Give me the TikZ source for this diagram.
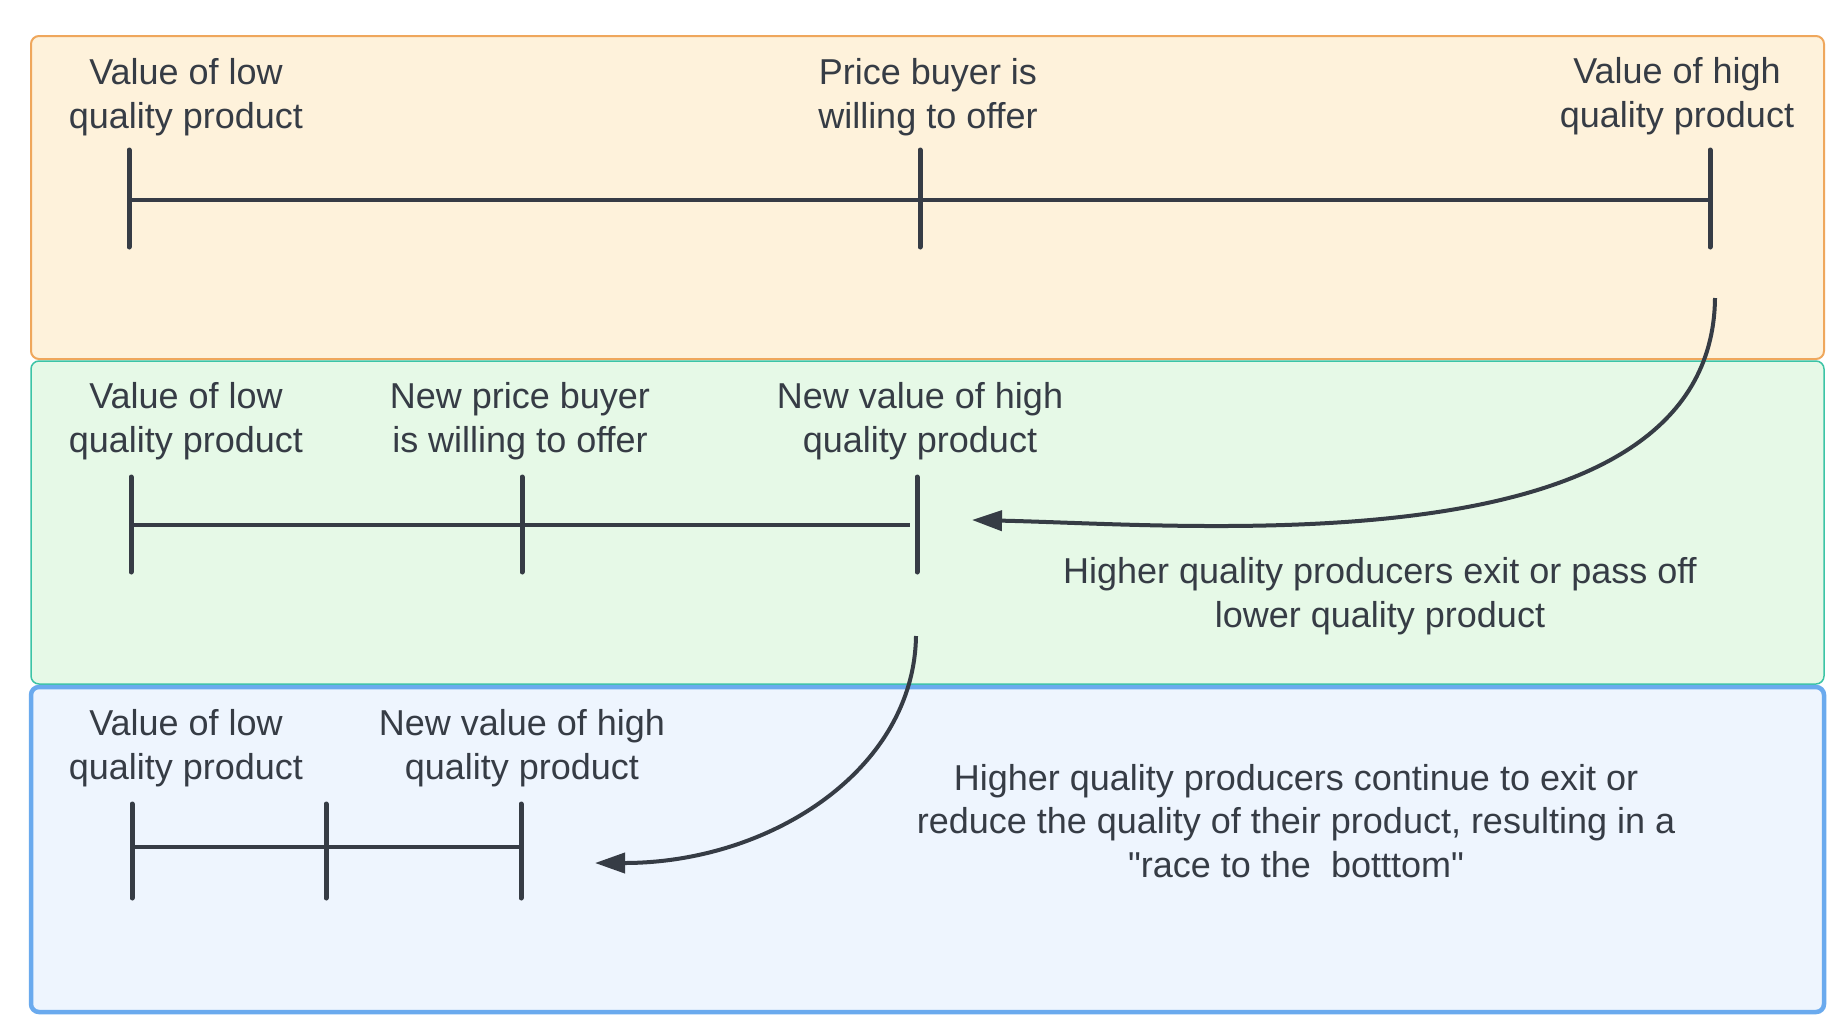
\documentclass[tikz,border=0pt]{standalone}
\usepackage{fontspec}
\setmainfont{Liberation Sans}[Ligatures=TeXOff]
\usetikzlibrary{arrows.meta}
\definecolor{ink}{HTML}{363C45}
\definecolor{orfill}{HTML}{FEF2DB}
\definecolor{ordraw}{HTML}{EFA75C}
\definecolor{grfill}{HTML}{E6F9E7}
\definecolor{grdraw}{HTML}{3CC4A6}
\definecolor{blfill}{HTML}{EEF5FE}
\definecolor{bldraw}{HTML}{6AAAEE}
\begin{document}
\begin{tikzpicture}[x=1pt,y=-1pt,
  lbl/.style={text=ink, font=\fontsize{36}{43.5}\selectfont, align=center, inner sep=0pt},
  tickmark/.style={draw=ink, line width=5pt, line cap=round},
  axisline/.style={draw=ink, line width=4.5pt},
  conn/.style={draw=ink, line width=4pt, -{Triangle[length=30pt,width=20pt]}}]
\useasboundingbox[fill=white] (0,0) rectangle (1844,1034);
% panels
\path[draw=ordraw, line width=2pt, fill=orfill, rounded corners=8pt] (31,36) rectangle (1824,359);
\path[draw=grdraw, line width=1.5pt, fill=grfill, rounded corners=8pt] (31,361) rectangle (1824,684);
\path[draw=bldraw, line width=4.5pt, fill=blfill, rounded corners=8pt] (31,687) rectangle (1824,1012);
% top row
\node[lbl] (l11) at (186,97) {Value of low\\quality product};
\node[lbl] (l12) at (928,97) {Price buyer is\\willing to offer};
\node[lbl] (l13) at (1677,96) {Value of high\\quality product};
\coordinate (t11a) at (129,150); \coordinate (t11b) at (129,247);
\coordinate (t12a) at (920,150); \coordinate (t12b) at (920,247);
\coordinate (t13a) at (1710,150); \coordinate (t13b) at (1710,247);
\coordinate (p11) at (129,200); \coordinate (p13) at (1710,200);
\draw[axisline] (p11) -- (p13);
\draw[tickmark] (t11a) -- (t11b);
\draw[tickmark] (t12a) -- (t12b);
\draw[tickmark] (t13a) -- (t13b);
% middle row
\node[lbl] (l21) at (186,421) {Value of low\\quality product};
\node[lbl] (l22) at (520,421) {New price buyer\\is willing to offer};
\node[lbl] (l23) at (920,421) {New value of high\\quality product};
\coordinate (t21a) at (131,477); \coordinate (t21b) at (131,572);
\coordinate (t22a) at (522,477); \coordinate (t22b) at (522,572);
\coordinate (t23a) at (917,477); \coordinate (t23b) at (917,572);
\coordinate (p21) at (131,525); \coordinate (p23) at (910,525);
\draw[axisline] (p21) -- (p23);
\draw[tickmark] (t21a) -- (t21b);
\draw[tickmark] (t22a) -- (t22b);
\draw[tickmark] (t23a) -- (t23b);
\node[lbl] (d2) at (1380,596) {Higher quality producers exit or pass off\\lower quality product};
% bottom row
\node[lbl] (l31) at (186,748) {Value of low\\quality product};
\node[lbl] (l32) at (522,748) {New value of high\\quality product};
\coordinate (t31a) at (132,804); \coordinate (t31b) at (132,898);
\coordinate (t32a) at (326,804); \coordinate (t32b) at (326,898);
\coordinate (t33a) at (521,804); \coordinate (t33b) at (521,898);
\coordinate (p31) at (132,847); \coordinate (p33) at (521,847);
\draw[axisline] (p31) -- (p33);
\draw[tickmark] (t31a) -- (t31b);
\draw[tickmark] (t32a) -- (t32b);
\draw[tickmark] (t33a) -- (t33b);
\node[lbl] (d3) at (1296,821) {Higher quality producers continue to exit or\\reduce the quality of their product, resulting in a\\"race to the \ botttom"};
% connectors
\coordinate (a1s) at (1715,298); \coordinate (a1e) at (972,520);
\coordinate (a2s) at (916,636); \coordinate (a2e) at (595,863);
\draw[conn] (a1s) .. controls (1712,570) and (1200,525) .. (a1e);
\draw[conn] (a2s) .. controls (914,770) and (770,863) .. (a2e);
\end{tikzpicture}
\end{document}
